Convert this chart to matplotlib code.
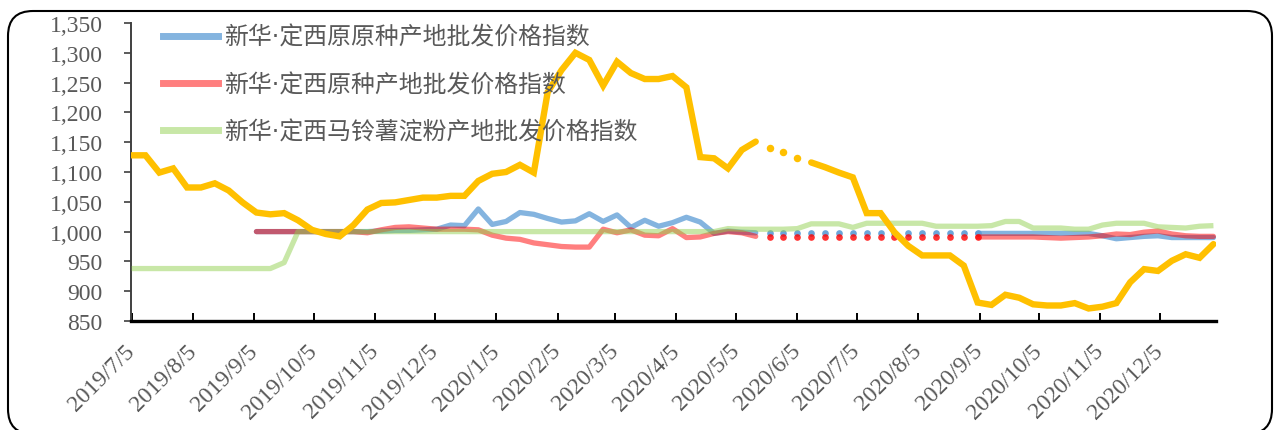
import numpy as np
import pandas as pd
import matplotlib
matplotlib.use('Agg')
import matplotlib.pyplot as plt
from matplotlib.patches import FancyBboxPatch
from matplotlib.ticker import FuncFormatter

# weekly points, every Friday from 2019/7/5 to 2021/1/1
dates = pd.date_range('2019-07-05', periods=79, freq='7D')

legend_labels = ['新华·定西原原种产地批发价格指数',
                 '新华·定西原种产地批发价格指数',
                 '新华·定西马铃薯淀粉产地批发价格指数']

tick_labels = ['2019/7/5', '2019/8/5', '2019/9/5', '2019/10/5', '2019/11/5', '2019/12/5',
               '2020/1/5', '2020/2/5', '2020/3/5', '2020/4/5', '2020/5/5', '2020/6/5',
               '2020/7/5', '2020/8/5', '2020/9/5', '2020/10/5', '2020/11/5', '2020/12/5']
y_ticks = [850, 900, 950, 1000, 1050, 1100, 1150, 1200, 1250, 1300, 1350]

nan = np.nan

# yellow line (no legend entry)
yellow_vals = [1128, 1128, 1099, 1106, 1074, 1074, 1081, 1069, 1049, 1032,
               1029, 1031, 1019, 1003, 996, 992, 1011, 1037, 1048, 1049,
               1053, 1057, 1057, 1060, 1060, 1085, 1097, 1100, 1112, 1099,
               1234, 1271, 1300, 1288, 1245, 1285, 1266, 1256, 1256, 1261,
               1242, 1125, 1123, 1106, 1137, 1151, 1141, 1133, 1124, 1116,
               1108, 1099, 1091, 1031, 1031, 999, 976, 960, 960, 960,
               943, 881, 877, 894, 889, 878, 876, 876, 880, 871,
               874, 880, 915, 937, 934, 951, 962, 956, 979]

# 原原种
blue_vals = [nan, nan, nan, nan, nan, nan, nan, nan, nan, 1000,
             1000, 1000, 1000, 1000, 1000, 1000, 1000, 1000, 1001, 1002,
             1002, 1003, 1004, 1011, 1010, 1038, 1012, 1017, 1032, 1029,
             1022, 1016, 1018, 1030, 1017, 1028, 1007, 1019, 1009, 1015,
             1024, 1016, 997, 1001, 999, 998, 997, 997, 997, 997,
             997, 997, 997, 997, 997, 997, 997, 997, 997, 997,
             997, 997, 997, 997, 997, 997, 997, 997, 997, 997,
             993, 988, 990, 992, 993, 990, 990, 990, 990]

# 原种
red_vals = [nan, nan, nan, nan, nan, nan, nan, nan, nan, 1000,
            1000, 1000, 1000, 1000, 1000, 1000, 1000, 998, 1003, 1007,
            1008, 1006, 1004, 1004, 1004, 1003, 994, 989, 987, 981,
            978, 975, 974, 974, 1004, 998, 1003, 994, 993, 1005,
            990, 991, 997, 1000, 998, 992, 991, 991, 991, 991,
            991, 991, 991, 991, 991, 991, 991, 991, 991, 991,
            991, 991, 991, 991, 991, 991, 990, 989, 990, 991,
            993, 996, 995, 999, 1001, 996, 993, 992, 992]

# 马铃薯淀粉
green_vals = [938, 938, 938, 938, 938, 938, 938, 938, 938, 938,
              938, 948, 1000, 1000, 1000, 1000, 1000, 1000, 1000, 1000,
              1000, 1000, 1000, 1000, 1000, 1000, 1000, 1000, 1000, 1000,
              1000, 1000, 1000, 1000, 1000, 1000, 1000, 1000, 1000, 1000,
              1000, 1000, 1000, 1005, 1004, 1004, 1004, 1004, 1005, 1013,
              1013, 1013, 1007, 1014, 1014, 1014, 1014, 1014, 1009, 1009,
              1009, 1009, 1010, 1017, 1017, 1006, 1006, 1006, 1004, 1004,
              1011, 1014, 1014, 1014, 1008, 1007, 1006, 1009, 1010]

TEXT = '#595959'
C_BLUE = '#5B9BD5'
C_RED = '#FF0000'
C_GREEN = '#92D050'
C_YELLOW = '#FFC000'


def split_dotted(vals, start, stop):
    # solid part with a hole, and the points that are only drawn as dots
    v = np.array(vals, dtype=float)
    solid = v.copy()
    solid[start:stop - 1] = nan
    dots = np.full_like(v, nan)
    dots[start:stop] = v[start:stop]
    return solid, dots


fig = plt.figure(figsize=(12.74, 4.31), dpi=100)
ax = fig.add_axes([130.6 / 1274, 1 - 322 / 431, (1216 - 130.6) / 1274, 298 / 431])

blue_solid, blue_dots = split_dotted(blue_vals, 46, 62)
red_solid, red_dots = split_dotted(red_vals, 46, 62)
yel_solid, yel_dots = split_dotted(yellow_vals, 46, 49)
yel_solid[48] = nan

lw = 3.8
ax.plot(dates, blue_solid, color=C_BLUE, alpha=0.75, lw=lw, solid_capstyle='round', zorder=2)
ax.plot(dates, blue_dots, ls='none', marker='o', ms=4.8, mew=0, color=C_BLUE, alpha=0.9, zorder=2)
ax.plot(dates, red_solid, color=C_RED, alpha=0.5, lw=lw, solid_capstyle='round', zorder=3)
ax.plot(dates, red_dots, ls='none', marker='o', ms=4.8, mew=0, color=C_RED, alpha=0.8, zorder=3)
ax.plot(dates, green_vals, color=C_GREEN, alpha=0.5, lw=lw, solid_capstyle='butt', zorder=4)
ax.plot(dates, yel_solid, color=C_YELLOW, lw=4.6, solid_capstyle='round', solid_joinstyle='miter', zorder=5)
ax.plot(dates, yel_dots, ls='none', marker='o', ms=5.4, mew=0, color=C_YELLOW, zorder=5)

# legend
handles = [plt.Line2D([], [], color=C_BLUE, alpha=0.75, lw=5),
           plt.Line2D([], [], color=C_RED, alpha=0.5, lw=5),
           plt.Line2D([], [], color=C_GREEN, alpha=0.5, lw=5)]
leg = ax.legend(handles, legend_labels, loc='upper left',
                bbox_to_anchor=(163 / 1274, 1 - 26 / 431), bbox_transform=fig.transFigure,
                frameon=False, borderpad=0, borderaxespad=0, handlelength=2.3,
                handletextpad=0.25, labelspacing=0.97, labelcolor=TEXT,
                prop={'family': ['DejaVu Sans', 'Noto Sans CJK SC'], 'size': 17.2})

ax.set_ylim(850, 1350)
ax.set_yticks(y_ticks)
ax.yaxis.set_major_formatter(FuncFormatter(lambda v, p: f'{int(v):,}'))
ax.set_xlim(dates[0] - pd.Timedelta(days=0.5), dates[-1] + pd.Timedelta(days=1.3))
ax.set_xticks(pd.to_datetime(tick_labels, format='%Y/%m/%d'))
ax.set_xticklabels(tick_labels, rotation=45, ha='right', va='center', rotation_mode='anchor')

for lab in ax.get_xticklabels() + ax.get_yticklabels():
    lab.set_family('Liberation Serif')
    lab.set_fontsize(17)
    lab.set_color(TEXT)

ax.spines['top'].set_visible(False)
ax.spines['right'].set_visible(False)
ax.spines['left'].set_color('#404040')
ax.spines['left'].set_linewidth(1.4)
ax.spines['bottom'].set_color('black')
ax.spines['bottom'].set_linewidth(2.4)
ax.tick_params(axis='y', direction='out', length=5, width=1.2, color='#404040', pad=15)
ax.tick_params(axis='x', direction='in', length=6, width=1.4, color='black', pad=19)

# rounded frame around the whole picture
frame = FancyBboxPatch((0.08, -0.04), 12.64, 4.23, boxstyle='round,pad=0,rounding_size=0.25',
                       transform=fig.dpi_scale_trans, fill=False, ec='black', lw=1.5)
fig.patches.append(frame)

fig.savefig('out.png', dpi=100)
